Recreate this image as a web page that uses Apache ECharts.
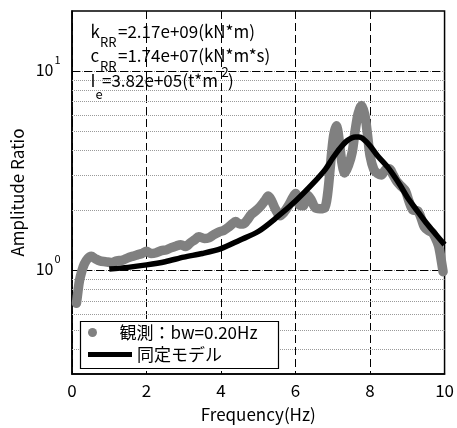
<!DOCTYPE html>
<html>
<head>
<meta charset="utf-8">
<script src="https://cdn.jsdelivr.net/npm/echarts@6/dist/echarts.min.js"></script>
<style>
  html, body { margin: 0; padding: 0; background: #fff; }
  #chart { width: 457px; height: 428px; }
</style>
</head>
<body>
<div id="chart"></div>
<script>
// Rocking-mode amplitude ratio: observed spectrum vs. identified model
const FONT = '"Noto Sans CJK JP", "Noto Sans", sans-serif';

const obsFreq = [0.12, 0.16, 0.2, 0.26, 0.33, 0.42, 0.52, 0.62, 0.75, 0.9, 1.05, 1.2, 1.36, 1.5, 1.62, 1.75, 1.88, 2.0,
  2.12, 2.26, 2.4, 2.52, 2.65, 2.8, 2.92, 3.05, 3.18, 3.3, 3.4, 3.55, 3.67, 3.8, 3.94, 4.07, 4.2, 4.3, 4.39, 4.5, 4.6,
  4.72, 4.81, 4.93, 5.05, 5.17, 5.27, 5.36, 5.46, 5.58, 5.7, 5.82, 5.92, 6.0, 6.1, 6.2, 6.32, 6.42, 6.52, 6.65, 6.78,
  6.86, 6.94, 7.02, 7.1, 7.17, 7.24, 7.32, 7.42, 7.52, 7.6, 7.68, 7.77, 7.86, 7.93, 8.0, 8.1, 8.2, 8.3, 8.42, 8.52,
  8.62, 8.72, 8.85, 8.95, 9.05, 9.15, 9.28, 9.38, 9.46, 9.56, 9.67, 9.76, 9.84, 9.9, 9.96];
const obsAmp = [0.68, 0.78, 0.88, 0.98, 1.07, 1.14, 1.17, 1.14, 1.11, 1.10, 1.09, 1.11, 1.12, 1.15, 1.17, 1.19, 1.21, 1.24,
  1.21, 1.22, 1.25, 1.26, 1.29, 1.32, 1.34, 1.31, 1.37, 1.42, 1.47, 1.44, 1.45, 1.50, 1.55, 1.58, 1.64, 1.70, 1.75, 1.70, 1.70,
  1.80, 1.90, 1.98, 2.08, 2.22, 2.35, 2.22, 2.02, 1.87, 1.96, 2.12, 2.30, 2.42, 2.12, 2.10, 2.38, 2.25, 2.06, 2.03, 2.05,
  2.40, 3.40, 4.70, 5.30, 4.50, 3.50, 3.07, 3.35, 3.90, 5.00, 6.10, 6.70, 6.00, 4.80, 3.75, 3.20, 3.05, 3.00, 3.20, 3.22,
  3.00, 2.78, 2.62, 2.50, 2.20, 2.00, 1.98, 1.80, 1.64, 1.58, 1.54, 1.44, 1.32, 1.15, 0.98];

const modelFreq = [1.0, 1.5, 2.0, 2.5, 3.0, 3.5, 4.0, 4.5, 5.0, 5.5, 6.0, 6.5, 6.8, 7.0, 7.2, 7.4, 7.6, 7.7, 7.8, 8.0,
  8.2, 8.5, 8.8, 9.0, 9.25, 9.5, 9.75, 10.0];
const modelAmp = [1.01, 1.03, 1.06, 1.10, 1.16, 1.21, 1.28, 1.41, 1.56, 1.84, 2.22, 2.76, 3.20, 3.65, 4.10, 4.48, 4.66, 4.66,
  4.58, 4.20, 3.75, 3.24, 2.68, 2.32, 2.00, 1.73, 1.52, 1.34];

const seriesNames = ['観測：bw=0.20Hz', '同定モデル'];
const yDecades = [1, 10];
const yMinorGrid = [0.4, 0.5, 0.6, 0.7, 0.8, 0.9, 2, 3, 4, 5, 6, 7, 8, 9];
const paramLines = [
  { sym: 'k', sub: 'RR', body: '=2.17e+09(kN*m)' },
  { sym: 'c', sub: 'RR', body: '=1.74e+07(kN*m*s)' },
  { sym: 'I', sub: 'e', body: '=3.82e+05(t*m', sup: '2', tail: ')' }
];

const pairs = (xs, ys) => xs.map((x, i) => [x, ys[i]]);

const dottedGrid = yMinorGrid.concat(yDecades).map(v => ({
  yAxis: v, lineStyle: { color: '#9a9a9a', type: [1, 1], width: 1 }
}));
const dashedGrid = yDecades.map(v => ({
  yAxis: v, lineStyle: { color: '#000', type: [8, 4], width: 1 }
}));

const chart = echarts.init(document.getElementById('chart'), null, { renderer: 'canvas' });

const textStyle = { color: '#000', fontFamily: FONT, fontSize: 17 };

chart.setOption({
  animation: false,
  backgroundColor: '#fff',
  grid: {
    left: 72, top: 11, width: 376, height: 363,
    show: true, borderColor: '#000', borderWidth: 1.5, backgroundColor: '#fff'
  },
  xAxis: {
    type: 'value', min: 0, max: 10, interval: 2,
    axisLine: { lineStyle: { color: '#000', width: 1.5 } },
    axisTick: { show: false },
    axisLabel: Object.assign({ margin: 8 }, textStyle),
    splitLine: { show: true, lineStyle: { color: '#000', type: [8, 4], width: 1 } },
    name: 'Frequency(Hz)', nameLocation: 'middle', nameGap: 32,
    nameTextStyle: textStyle
  },
  yAxis: {
    type: 'log', logBase: 10, min: 0.3, max: 20,
    axisLine: { show: true, lineStyle: { color: '#000', width: 1.5 } },
    axisTick: { show: false },
    axisLabel: { show: false },
    splitLine: { show: false },
    name: 'Amplitude Ratio', nameLocation: 'middle', nameGap: 46, nameRotate: 90,
    nameTextStyle: textStyle
  },
  legend: [
    {
      data: [{ name: seriesNames[0], icon: 'circle' }],
      left: 88, top: 324, padding: 0, itemWidth: 44, itemHeight: 9, itemGap: 0,
      selectedMode: false, z: 20, itemStyle: { borderWidth: 0 },
      textStyle: textStyle
    },
    {
      data: [{ name: seriesNames[1], icon: 'rect' }],
      left: 88, top: 346, padding: 0, itemWidth: 44, itemHeight: 5, itemGap: 0,
      selectedMode: false, z: 20, itemStyle: { borderWidth: 0 },
      textStyle: textStyle
    }
  ],
  series: [
    {
      name: seriesNames[0], type: 'line', data: pairs(obsFreq, obsAmp),
      showSymbol: false, symbol: 'circle', smooth: 0.3, z: 3,
      lineStyle: { color: '#808080', width: 9.5, cap: 'round', join: 'round' },
      itemStyle: { color: '#808080' },
      markLine: {
        silent: true, symbol: ['none', 'none'], z: 1, animation: false,
        label: { show: false },
        data: dottedGrid.concat(dashedGrid)
      }
    },
    {
      name: seriesNames[1], type: 'line', data: pairs(modelFreq, modelAmp),
      showSymbol: false, symbol: 'circle', smooth: 0.3, z: 4,
      lineStyle: { color: '#000', width: 5.5, cap: 'butt', join: 'round' },
      itemStyle: { color: '#000' }
    }
  ]
});

// Decade tick labels (10^n) placed from the log scale
const graphics = [];
yDecades.forEach(v => {
  const y = chart.convertToPixel({ yAxisIndex: 0 }, v);
  const exp = String(Math.round(Math.log10(v)));
  graphics.push({
    type: 'text', z: 30,
    style: { text: '10', x: 53.5, y: y - 1, font: '16px ' + FONT, fill: '#000',
      textAlign: 'right', align: 'right', textVerticalAlign: 'middle', verticalAlign: 'middle' }
  });
  graphics.push({
    type: 'text', z: 30,
    style: { text: exp, x: 54.5, y: y - 11, font: '11px ' + FONT, fill: '#000',
      textAlign: 'left', align: 'left', textVerticalAlign: 'middle', verticalAlign: 'middle' }
  });
});

// Legend frame
graphics.push({
  type: 'rect', z: 10,
  shape: { x: 80.5, y: 321.5, width: 198, height: 47 },
  style: { fill: '#fff', stroke: '#000', lineWidth: 1.2 }
});

// Identified parameters
const rowY = [32, 55.5, 80.5];
const subY = [42.5, 66.5, 94];
const subX = [100, 100, 95.5];
const bodyX = [118, 118, 102];
paramLines.forEach((p, i) => {
  const base = { fill: '#000', textAlign: 'left', align: 'left', textVerticalAlign: 'middle', verticalAlign: 'middle' };
  graphics.push({ type: 'text', z: 30, style: Object.assign({ text: p.sym, x: 90.5, y: rowY[i], font: '17px ' + FONT }, base) });
  graphics.push({ type: 'text', z: 30, style: Object.assign({ text: p.sub, x: subX[i], y: subY[i], font: '13px ' + FONT }, base) });
  graphics.push({ type: 'text', z: 30, style: Object.assign({ text: p.body, x: bodyX[i], y: rowY[i], font: '17px ' + FONT }, base) });
  if (p.sup) {
    graphics.push({ type: 'text', z: 30, style: Object.assign({ text: p.sup, x: 221.5, y: 72, font: '13px ' + FONT }, base) });
    graphics.push({ type: 'text', z: 30, style: Object.assign({ text: p.tail, x: 228, y: rowY[i], font: '17px ' + FONT }, base) });
  }
});

chart.setOption({ graphic: graphics });
</script>
</body>
</html>
